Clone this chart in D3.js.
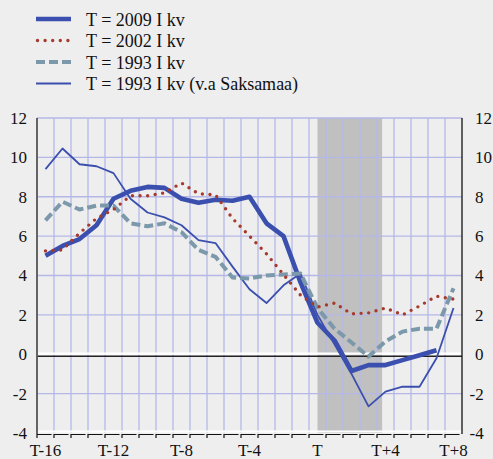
<!DOCTYPE html>
<html>
<head>
<meta charset="utf-8">
<script src="https://cdn.jsdelivr.net/npm/d3@7"></script>
<style>
body { margin: 0; background: #eeeeee; }
text { font-family: "Liberation Serif", "Times New Roman", serif; fill: #111; }
</style>
</head>
<body>
<script>
// kvartalid T-16 ... T+8
var periods = [-16, -15, -14, -13, -12, -11, -10, -9, -8, -7, -6, -5, -4, -3, -2, -1, 0, 1, 2, 3, 4, 5, 6, 7, 8];

var series2009 = [5.0, 5.5, 5.85, 6.55, 7.9, 8.3, 8.5, 8.45, 7.9, 7.7, 7.85, 7.8, 8.0, 6.65, 6.0, 3.65, 1.6, 0.7, -0.85, -0.55, -0.55, -0.3, -0.05, 0.2, null];
var series2002 = [5.25, 5.3, 6.15, 6.9, 7.35, 8.05, 8.05, 8.2, 8.7, 8.15, 8.1, 6.9, 6.0, 5.1, 4.05, 3.0, 2.4, 2.6, 2.05, 2.1, 2.35, 2.0, 2.45, 2.95, 2.8];
var series1993 = [6.8, 7.75, 7.35, 7.55, 7.55, 6.65, 6.5, 6.65, 6.2, 5.3, 4.95, 3.9, 3.85, 4.0, 4.05, 4.1, 2.35, 1.3, 0.6, -0.12, 0.65, 1.15, 1.3, 1.3, 3.35];
var series1993ex = [9.4, 10.45, 9.65, 9.55, 9.2, 7.9, 7.2, 6.95, 6.55, 5.8, 5.65, 4.45, 3.3, 2.6, 3.5, 4.1, 2.0, 0.5, -1.0, -2.65, -1.9, -1.65, -1.65, -0.2, 2.35];

var legendLabels = ["T = 2009 I kv", "T = 2002 I kv", "T = 1993 I kv", "T = 1993 I kv (v.a Saksamaa)"];
var xTickValues = [-16, -12, -8, -4, 0, 4, 8];
var yTickValues = [-4, -2, 0, 2, 4, 6, 8, 10, 12];
var shade = [0, 3.8];

function periodLabel(p) {
    if (p == 0) return "T";
    return p < 0 ? "T" + p : "T+" + p;
}

var width = 493, height = 459;

var xScale = d3.scaleLinear().domain([-16.5, 8.5]).range([37, 462]);
var yScale = d3.scaleLinear().domain([-4, 12]).range([433, 118]);

var svg = d3.select("body").append("svg")
    .attr("width", width)
    .attr("height", height);

svg.append("rect")
    .attr("width", width)
    .attr("height", height)
    .attr("fill", "#eeeeee");

// hall riba
svg.append("rect")
    .attr("x", xScale(shade[0]))
    .attr("y", yScale(12))
    .attr("width", xScale(shade[1]) - xScale(shade[0]))
    .attr("height", yScale(-4) - yScale(12))
    .attr("fill", "#c0c0c0");

// ruudustik
svg.append("g")
    .selectAll("line")
    .data(periods.slice(0, -1))
    .enter()
    .append("line")
    .attr("x1", function(d) { return xScale(d + 0.5); })
    .attr("x2", function(d) { return xScale(d + 0.5); })
    .attr("y1", yScale(12))
    .attr("y2", yScale(-4))
    .attr("stroke", "#b4b8e6")
    .attr("stroke-width", 1.3);

svg.append("g")
    .selectAll("line")
    .data(yTickValues.filter(function(d) { return d != 0 && d != -4; }))
    .enter()
    .append("line")
    .attr("x1", xScale.range()[0])
    .attr("x2", xScale.range()[1])
    .attr("y1", function(d) { return yScale(d); })
    .attr("y2", function(d) { return yScale(d); })
    .attr("stroke", "#b4b8e6")
    .attr("stroke-width", 1.3);

// nulljoon
svg.append("line")
    .attr("x1", 37).attr("x2", 462)
    .attr("y1", yScale(0) - 0.6).attr("y2", yScale(0) - 0.6)
    .attr("stroke", "#ffffff")
    .attr("stroke-width", 2.4);
svg.append("line")
    .attr("x1", 37).attr("x2", 462)
    .attr("y1", yScale(0) + 2).attr("y2", yScale(0) + 2)
    .attr("stroke", "#222")
    .attr("stroke-width", 1.4);

// alumine telg
svg.append("line")
    .attr("x1", 37).attr("x2", 462)
    .attr("y1", 431.5).attr("y2", 431.5)
    .attr("stroke", "#ffffff")
    .attr("stroke-width", 2);

svg.append("g")
    .selectAll("path")
    .data(periods)
    .enter()
    .append("path")
    .attr("d", function(d) {
        var x0 = xScale(d - 0.5), x1 = xScale(d + 0.5);
        return "M" + x0 + ",438V434.5H" + (x1 - 2.5);
    })
    .attr("fill", "none")
    .attr("stroke", "#111")
    .attr("stroke-width", 1.2);

svg.append("line")
    .attr("x1", 37).attr("x2", 37)
    .attr("y1", yScale(12)).attr("y2", yScale(-4) + 1)
    .attr("stroke", "#555")
    .attr("stroke-width", 1.8);

svg.append("line")
    .attr("x1", 462).attr("x2", 462)
    .attr("y1", yScale(12)).attr("y2", yScale(-4) + 1)
    .attr("stroke", "#111")
    .attr("stroke-width", 1.3);

// y-telgede sildid
var yAxisLeft = d3.axisLeft(yScale)
    .tickValues(yTickValues)
    .tickSize(0)
    .tickPadding(10)
    .tickFormat(function(d) { return String(d); });

var yAxisRight = d3.axisRight(yScale)
    .tickValues(yTickValues)
    .tickSize(0)
    .tickPadding(13)
    .tickFormat(function(d) { return String(d); });

var gl = svg.append("g")
    .attr("transform", "translate(37,0)")
    .call(yAxisLeft);
var gr = svg.append("g")
    .attr("transform", "translate(462,0)")
    .call(yAxisRight);

[gl, gr].forEach(function(g) {
    g.select(".domain").remove();
    g.selectAll("text")
        .attr("font-family", "Liberation Serif, serif")
        .attr("font-size", 17)
        .attr("fill", "#111");
});
gr.selectAll("text").attr("x", function(d) { return d < 0 ? 7.5 : 13; });

// x-telje sildid
svg.append("g")
    .selectAll("text")
    .data(xTickValues)
    .enter()
    .append("text")
    .attr("x", function(d) { return xScale(d); })
    .attr("y", 456)
    .attr("text-anchor", "middle")
    .attr("font-size", 17)
    .text(periodLabel);

// jooned
var line = d3.line()
    .defined(function(d) { return d[1] != null; })
    .x(function(d) { return xScale(d[0]); })
    .y(function(d) { return yScale(d[1]); });

function pairs(values) {
    return periods.map(function(p, i) { return [p, values[i]]; });
}

var styles = [
    {values: series1993ex, color: "#3b4fae", width: 1.8, dash: null, cap: "butt"},
    {values: series2009, color: "#3b4fae", width: 4.6, dash: null, cap: "butt"},
    {values: series1993, color: "#7b99aa", width: 4, dash: "9,4", cap: "butt"},
    {values: series2002, color: "#a63a2c", width: 3.4, dash: "0,7.6", cap: "round"}
];

svg.append("g")
    .selectAll("path")
    .data(styles)
    .enter()
    .append("path")
    .attr("d", function(d) { return line(pairs(d.values)); })
    .attr("fill", "none")
    .attr("stroke", function(d) { return d.color; })
    .attr("stroke-width", function(d) { return d.width; })
    .attr("stroke-dasharray", function(d) { return d.dash; })
    .attr("stroke-linecap", function(d) { return d.cap; })
    .attr("stroke-linejoin", "round");

// legend
var legendStyles = [styles[1], styles[3], styles[2], styles[0]];
var legendY = [19, 40.5, 62, 83.5];

var legend = svg.append("g")
    .selectAll("g")
    .data(legendLabels)
    .enter()
    .append("g")
    .attr("transform", function(d, i) { return "translate(0," + legendY[i] + ")"; });

legend.append("line")
    .attr("x1", function(d, i) { return i == 1 ? 37.5 : 36; })
    .attr("x2", 71)
    .attr("y1", 0)
    .attr("y2", 0)
    .attr("stroke", function(d, i) { return legendStyles[i].color; })
    .attr("stroke-width", function(d, i) { return legendStyles[i].width; })
    .attr("stroke-dasharray", function(d, i) { return legendStyles[i].dash; })
    .attr("stroke-linecap", function(d, i) { return legendStyles[i].cap; });

legend.append("text")
    .attr("x", 86)
    .attr("y", 6.5)
    .attr("font-size", 18)
    .text(function(d) { return d; });
</script>
</body>
</html>
